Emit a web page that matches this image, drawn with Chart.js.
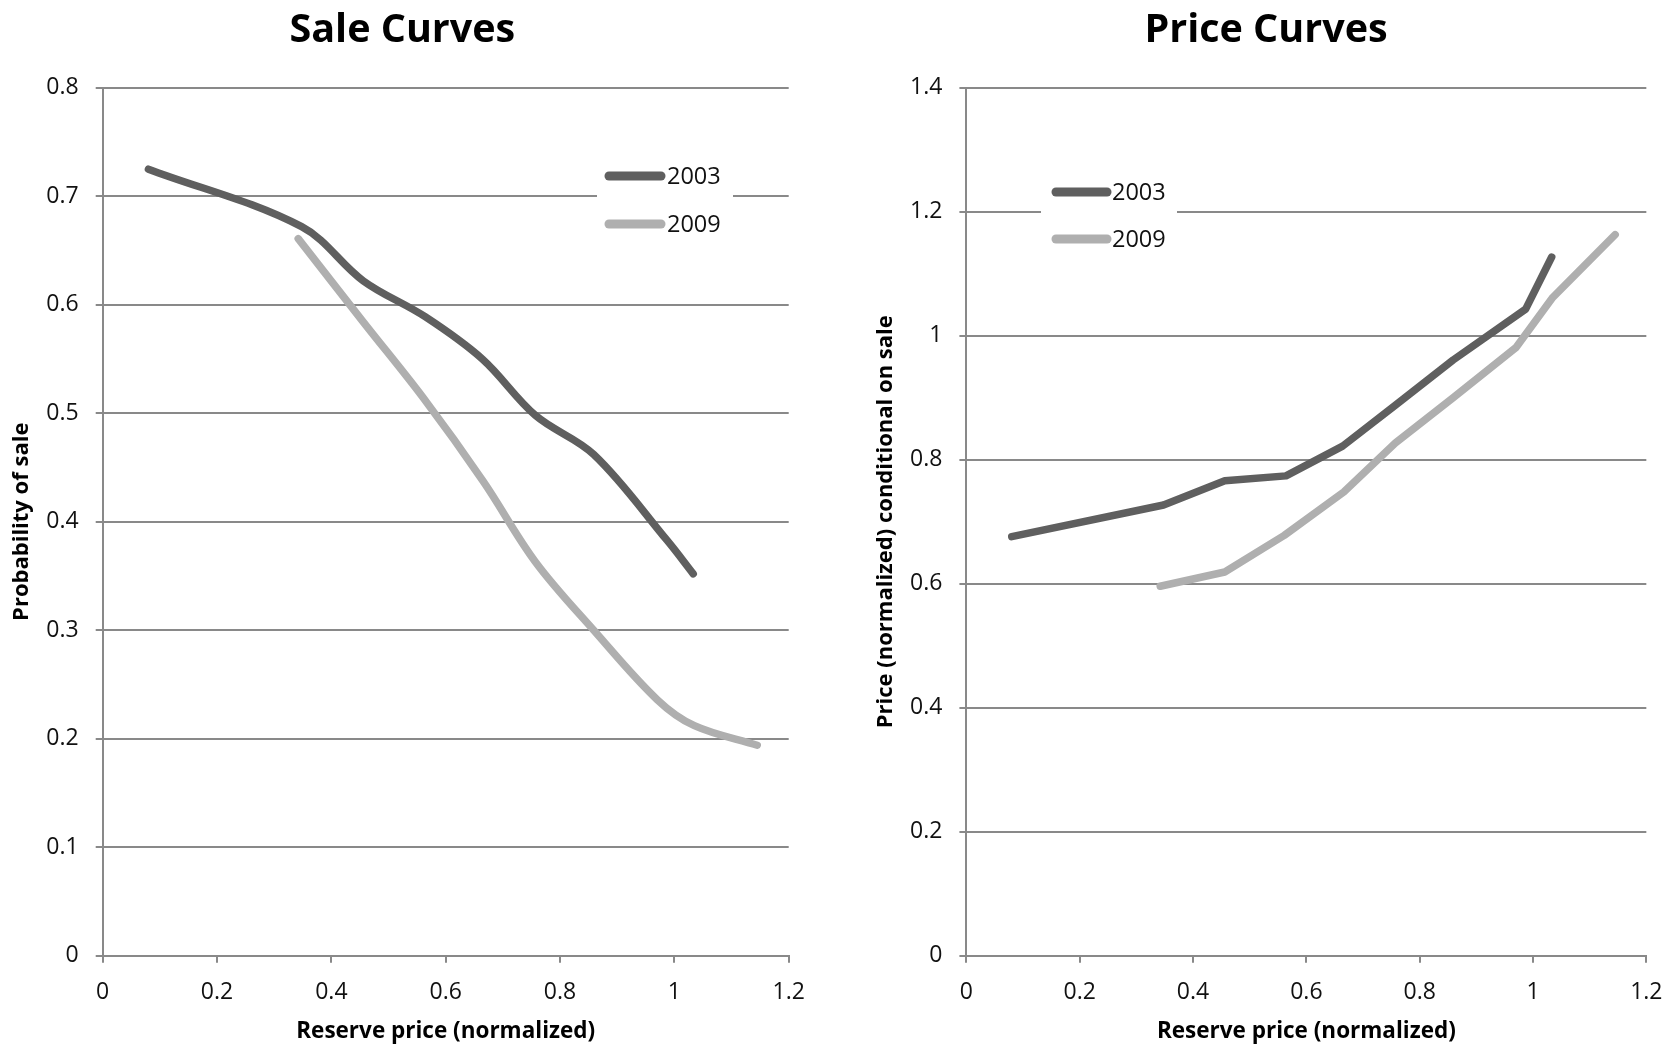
<!DOCTYPE html>
<html>
<head>
<meta charset="utf-8">
<script src="https://cdn.jsdelivr.net/npm/chart.js@4.4.1/dist/chart.umd.min.js"></script>
<style>
  html, body { margin: 0; padding: 0; background: #fff; }
  body { width: 1678px; height: 1048px; position: relative; overflow: hidden; }
  canvas { position: absolute; top: 0; }
</style>
</head>
<body>
<canvas id="sale" width="839" height="1048" style="left:0"></canvas>
<canvas id="price" width="839" height="1048" style="left:839px"></canvas>
<script>
// tick labels
const xTicks = [0, 0.2, 0.4, 0.6, 0.8, 1, 1.2]
const saleTicks = [0, 0.1, 0.2, 0.3, 0.4, 0.5, 0.6, 0.7, 0.8]
const priceTicks = [0, 0.2, 0.4, 0.6, 0.8, 1, 1.2, 1.4]

const seriesNames = ['2003', '2009']

// reserve price (normalized) for each series
const reserve2003 = [0.08, 0.348, 0.456, 0.564, 0.664, 0.757, 0.859, 0.987, 1.033]
const reserve2009 = [0.342, 0.456, 0.561, 0.666, 0.757, 0.859, 0.97, 1.035, 1.145]

// probability of sale
const sale2003 = [0.725, 0.672, 0.622, 0.589, 0.55, 0.498, 0.462, 0.383, 0.352]
const sale2009 = [0.661, 0.584, 0.514, 0.437, 0.363, 0.3, 0.236, 0.212, 0.194]

// price conditional on sale
const price2003 = [0.676, 0.727, 0.766, 0.774, 0.822, 0.888, 0.961, 1.043, 1.127]
const price2009 = [0.596, 0.619, 0.678, 0.748, 0.827, 0.9, 0.981, 1.062, 1.163]

const DARK = '#5f5f5f'
const LIGHT = '#afafaf'
const GRID = '#898989'
const FONT = "'Open Sans', sans-serif"

function toPoints(xs, ys) {
  return xs.map((x, i) => ({ x, y: ys[i] }))
}

function fmt(v) {
  return String(Math.round(v * 10) / 10)
}

// legend drawn on a white box inside the plot, like the original
const boxLegend = {
  id: 'boxLegend',
  afterDraw(chart, args, opts) {
    const ctx = chart.ctx
    ctx.save()
    ctx.fillStyle = '#fff'
    ctx.fillRect(opts.box[0], opts.box[1], opts.box[2], opts.box[3])
    chart.data.datasets.forEach((ds, i) => {
      const y = opts.rows[i]
      ctx.strokeStyle = ds.borderColor
      ctx.lineWidth = 9
      ctx.lineCap = 'round'
      ctx.beginPath()
      ctx.moveTo(opts.lineX[0], y)
      ctx.lineTo(opts.lineX[1], y)
      ctx.stroke()
      ctx.fillStyle = '#111'
      ctx.font = '23.5px ' + FONT
      ctx.textBaseline = 'middle'
      ctx.textAlign = 'left'
      ctx.fillText(ds.label, opts.textX, y + 1)
    })
    ctx.restore()
  }
}

function makeChart(id, cfg) {
  const ctx = document.getElementById(id)
  return new Chart(ctx, {
    type: 'line',
    data: {
      datasets: [
        {
          label: seriesNames[0],
          data: toPoints(reserve2003, cfg.y2003),
          borderColor: DARK,
          backgroundColor: DARK,
          borderWidth: 7.5,
          pointRadius: 0,
          tension: cfg.tension,
          borderCapStyle: 'round',
          borderJoinStyle: 'round'
        },
        {
          label: seriesNames[1],
          data: toPoints(reserve2009, cfg.y2009),
          borderColor: LIGHT,
          backgroundColor: LIGHT,
          borderWidth: 7.5,
          pointRadius: 0,
          tension: cfg.tension,
          borderCapStyle: 'round',
          borderJoinStyle: 'round'
        }
      ]
    },
    options: {
      responsive: false,
      animation: false,
      devicePixelRatio: 1,
      layout: { padding: { left: cfg.padLeft, right: cfg.padRight, top: 0, bottom: 0 } },
      plugins: {
        legend: { display: false },
        tooltip: { enabled: false },
        title: {
          display: true,
          text: cfg.title,
          color: '#000',
          font: { family: FONT, size: 39.5, weight: 'bold', lineHeight: 1.2 },
          padding: { top: 7.5, bottom: 32.9 }
        },
        boxLegend: cfg.legend
      },
      scales: {
        x: {
          type: 'linear',
          min: 0,
          max: 1.2,
          afterBuildTicks: (s) => { s.ticks = xTicks.map((v) => ({ value: v })) },
          afterFit: (s) => { s.height = 92.3 },
          ticks: {
            color: '#111',
            font: { family: FONT, size: 23 },
            padding: 15.5,
            maxRotation: 0,
            callback: (v) => fmt(v)
          },
          grid: {
            drawOnChartArea: false,
            drawTicks: true,
            tickLength: 7,
            color: GRID,
            lineWidth: 2
          },
          border: { color: GRID, width: 2 },
          title: {
            display: true,
            text: 'Reserve price (normalized)',
            color: '#000',
            font: { family: FONT, size: 22.5, weight: 'bold', lineHeight: 1.2 },
            padding: { top: 0, bottom: 2.5 }
          }
        },
        y: {
          type: 'linear',
          min: 0,
          max: cfg.yMax,
          afterBuildTicks: (s) => { s.ticks = cfg.yTicks.map((v) => ({ value: v })) },
          afterFit: (s) => { s.width = cfg.yWidth },
          ticks: {
            color: '#111',
            font: { family: FONT, size: 23 },
            padding: 17,
            callback: (v) => fmt(v)
          },
          grid: {
            color: GRID,
            lineWidth: 2,
            tickLength: 7
          },
          border: { color: GRID, width: 2 },
          title: {
            display: true,
            text: cfg.yTitle,
            color: '#000',
            font: { family: FONT, size: cfg.yTitleSize, weight: 'bold', lineHeight: 0.5 },
            padding: { top: 0, bottom: 0 }
          }
        }
      }
    },
    plugins: [boxLegend]
  })
}

makeChart('sale', {
  title: 'Sale Curves',
  y2003: sale2003,
  y2009: sale2009,
  tension: 0.35,
  yMax: 0.8,
  yTicks: saleTicks,
  yTitle: 'Probability of sale',
  yTitleSize: 22,
  padLeft: 16,
  padRight: 50.3,
  yWidth: 86.7,
  legend: { box: [597, 150, 136, 98], lineX: [609, 661], textX: 667, rows: [176, 224] }
})

makeChart('price', {
  title: 'Price Curves',
  y2003: price2003,
  y2009: price2009,
  tension: 0,
  yMax: 1.4,
  yTicks: priceTicks,
  yTitle: 'Price (normalized) conditional on sale',
  yTitleSize: 22,
  padLeft: 41.7,
  padRight: 26.7,
  yWidth: 85.7,
  legend: { box: [202, 166, 136, 98], lineX: [217, 268], textX: 273, rows: [192, 239] }
})
</script>
</body>
</html>
